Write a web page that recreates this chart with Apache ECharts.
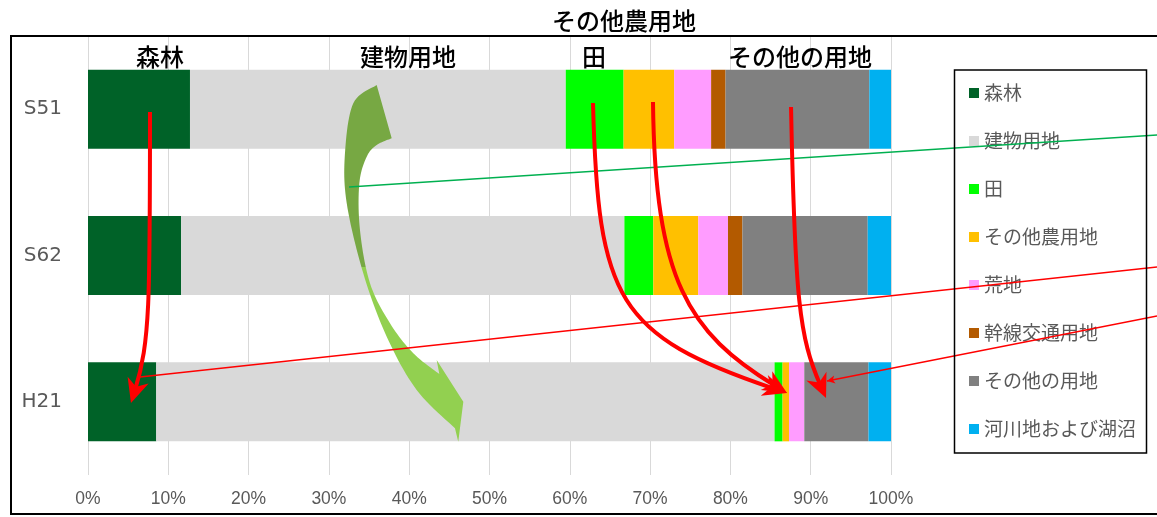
<!DOCTYPE html>
<html>
<head>
<meta charset="utf-8">
<script src="https://cdn.jsdelivr.net/npm/echarts@6/dist/echarts.min.js"></script>
<style>
  html, body { margin: 0; padding: 0; background: #fff; }
  #chart { width: 1157px; height: 517px; }
</style>
</head>
<body>
<div id="chart"></div>
<script>
// Land use share (%) by survey year
const years = ['S51', 'S62', 'H21'];
const landUse = ['森林', '建物用地', '田', 'その他農用地', '荒地', '幹線交通用地', 'その他の用地', '河川地および湖沼'];
const forest     = [12.7, 11.6, 8.5];
const buildings  = [46.8, 55.2, 77.0];
const paddy      = [7.2, 3.6, 1.0];
const otherFarm  = [6.3, 5.6, 0.8];
const wasteland  = [4.6, 3.7, 1.9];
const roads      = [1.8, 1.8, 0.0];
const otherUse   = [17.9, 15.6, 8.0];
const rivers     = [2.7, 2.9, 2.8];
const xTicks = [0, 10, 20, 30, 40, 50, 60, 70, 80, 90, 100];

const seriesValues = [forest, buildings, paddy, otherFarm, wasteland, roads, otherUse, rivers];
const seriesColors = ['#006228', '#D9D9D9', '#00FF00', '#FFC000', '#FF9CFF', '#B35A00', '#808080', '#00B0F0'];

// Heading texts over the bars: [text, value %, row]
const headings = [
  ['森林', 8.97, 0.145],
  ['建物用地', 39.85, 0.145],
  ['田', 63.0, 0.145],
  ['その他の用地', 88.67, 0.145]
];

// Callout arrows, in axis units [value %, row]; row 0.5 / 1.5 / 2.5 are the bar centres
const redArrows = [
  [[7.72, 0.519], [7.72, 1.804], [7.22, 2.180], [5.35, 2.508]],
  [[62.89, 0.458], [63.51, 1.804], [67.50, 2.077], [87.05, 2.440]],
  [[70.36, 0.451], [70.61, 1.667], [76.21, 2.077], [87.05, 2.440]],
  [[87.55, 0.485], [88.04, 1.804], [89.29, 2.146], [91.91, 2.474]]
];
const leaderLines = [
  { from: [133.13, 1.579], to: [6.48, 2.330], color: '#FF0000', head: false },
  { from: [133.13, 1.913], to: [92.03, 2.358], color: '#FF0000', head: true },
  { from: [133.13, 0.677], to: [32.50, 1.032], color: '#00B050', head: false }
];
const bigArrowOuter = [[35.95, 0.335], [33.04, 0.460], [32.00, 0.802], [32.22, 1.143], [34.28, 1.622],
  [37.20, 2.055], [40.93, 2.419], [45.70, 2.681]];
const bigArrowHead = [[46.11, 2.772], [46.74, 2.499], [43.42, 2.214]];
const bigArrowInner = [[43.75, 2.310], [40.51, 2.168], [37.61, 1.963], [35.12, 1.690], [33.87, 1.326],
  [33.79, 1.007], [34.71, 0.825], [35.95, 0.745], [37.82, 0.699]];

const chart = echarts.init(document.getElementById('chart'));

const series = landUse.map((name, i) => ({
  name: name,
  type: 'bar',
  stack: 'total',
  barWidth: 79,
  data: seriesValues[i],
  itemStyle: { color: seriesColors[i] },
  emphasis: { disabled: true }
}));

chart.setOption({
  animation: false,
  backgroundColor: '#ffffff',
  grid: { left: 88, right: 266, top: 36, bottom: 42, containLabel: false },
  legend: {
    data: landUse,
    orient: 'vertical',
    left: 964,
    top: 78,
    itemWidth: 10,
    itemHeight: 10,
    itemGap: 28,
    icon: 'rect',
    selectedMode: false,
    textStyle: { fontFamily: 'Noto Sans CJK JP', fontSize: 19, color: '#595959', lineHeight: 20 }
  },
  xAxis: {
    type: 'value',
    min: xTicks[0],
    max: xTicks[xTicks.length - 1],
    interval: xTicks[1] - xTicks[0],
    axisLine: { show: true, lineStyle: { color: '#D9D9D9', width: 1 } },
    axisTick: { show: false },
    splitLine: { show: true, lineStyle: { color: '#D9D9D9', width: 1 } },
    axisLabel: {
      formatter: v => v + '%',
      fontFamily: 'Liberation Sans',
      fontSize: 17.5,
      color: '#595959',
      margin: 15
    }
  },
  yAxis: [
    {
      type: 'category',
      data: years,
      inverse: true,
      axisLine: { show: false },
      axisTick: { show: false },
      axisLabel: { fontFamily: 'DejaVu Sans', fontSize: 20, color: '#595959', margin: 26 }
    },
    // helper scale for placing callouts between the rows
    { type: 'value', min: 0, max: 3, inverse: true, show: false, splitLine: { show: false } }
  ],
  series: series
});

function px(p) {
  return chart.convertToPixel({ xAxisIndex: 0, yAxisIndex: 1 }, p);
}

function arrowHead(tip, from, len, half, notch, color) {
  const dx = tip[0] - from[0], dy = tip[1] - from[1];
  const d = Math.hypot(dx, dy), ux = dx / d, uy = dy / d, nx = -uy, ny = ux;
  const bx = tip[0] - ux * len, by = tip[1] - uy * len;
  return {
    type: 'polygon', z: 100,
    shape: { points: [tip, [bx + nx * half, by + ny * half],
      [tip[0] - ux * (len - notch), tip[1] - uy * (len - notch)], [bx - nx * half, by - ny * half]] },
    style: { fill: color }
  };
}

function catmull(pts, n) {
  const out = [];
  for (let i = 0; i < pts.length - 1; i++) {
    const p0 = pts[Math.max(i - 1, 0)], p1 = pts[i], p2 = pts[i + 1], p3 = pts[Math.min(i + 2, pts.length - 1)];
    for (let k = 0; k < n; k++) {
      const t = k / n, t2 = t * t, t3 = t2 * t;
      const f = j => 0.5 * (2 * p1[j] + (-p0[j] + p2[j]) * t + (2 * p0[j] - 5 * p1[j] + 4 * p2[j] - p3[j]) * t2 +
        (-p0[j] + 3 * p1[j] - 3 * p2[j] + p3[j]) * t3);
      out.push([f(0), f(1)]);
    }
  }
  out.push(pts[pts.length - 1]);
  return out;
}

const graphics = [];

// outer frame and legend box
graphics.push({ type: 'rect', z: 100, shape: { x: 11, y: 36, width: 1160, height: 478 },
  style: { fill: 'none', stroke: '#000', lineWidth: 2 } });
graphics.push({ type: 'rect', z: 100, shape: { x: 954.5, y: 70, width: 192, height: 383 },
  style: { fill: 'none', stroke: '#000', lineWidth: 1.5 } });

// title
graphics.push({ type: 'text', z: 100, x: 624, y: 21,
  style: { text: 'その他農用地', fontFamily: 'Noto Sans CJK JP', fontSize: 24, fontWeight: 500,
    fill: '#000', align: 'center', verticalAlign: 'middle' } });

// headings
headings.forEach(h => {
  const p = px([h[1], h[2]]);
  graphics.push({ type: 'text', z: 100, x: p[0], y: p[1],
    style: { text: h[0], fontFamily: 'Noto Sans CJK JP', fontSize: 24, fontWeight: 500,
      fill: '#000', align: 'center', verticalAlign: 'middle' } });
});

// large green curved arrow
{
  const outer = catmull(bigArrowOuter.map(px), 12);
  const inner = catmull(bigArrowInner.map(px), 12);
  const pts = outer.concat(bigArrowHead.map(px), inner);
  graphics.push({ type: 'polygon', z: 90, shape: { points: pts },
    style: { fill: { type: 'linear', x: 0, y: 0, x2: 0, y2: 1, colorStops: [
      { offset: 0, color: '#77A843' }, { offset: 0.51, color: '#77A843' },
      { offset: 0.51, color: '#92D050' }, { offset: 1, color: '#92D050' }] } } });
}

// thin leader lines
leaderLines.forEach(l => {
  const a = px(l.from), b = px(l.to);
  graphics.push({ type: 'line', z: 95, shape: { x1: a[0], y1: a[1], x2: b[0], y2: b[1] },
    style: { stroke: l.color, lineWidth: 1.5 } });
  if (l.head) graphics.push(arrowHead(b, a, 8, 4, 2, l.color));
});

// red curved arrows
redArrows.forEach(a => {
  const p = a.map(px);
  const tip = p[3], c2 = p[2];
  const dx = tip[0] - c2[0], dy = tip[1] - c2[1], d = Math.hypot(dx, dy);
  const back = 14, ux = dx / d, uy = dy / d;
  graphics.push({ type: 'bezierCurve', z: 100,
    shape: { x1: p[0][0], y1: p[0][1], cpx1: p[1][0], cpy1: p[1][1],
      cpx2: c2[0] - ux * back, cpy2: c2[1] - uy * back, x2: tip[0] - ux * back, y2: tip[1] - uy * back },
    style: { stroke: '#FF0000', lineWidth: 4, fill: 'none' } });
  graphics.push(arrowHead(tip, c2, 24, 11, 7, '#FF0000'));
});

chart.setOption({ graphic: { elements: graphics } });
</script>
</body>
</html>
